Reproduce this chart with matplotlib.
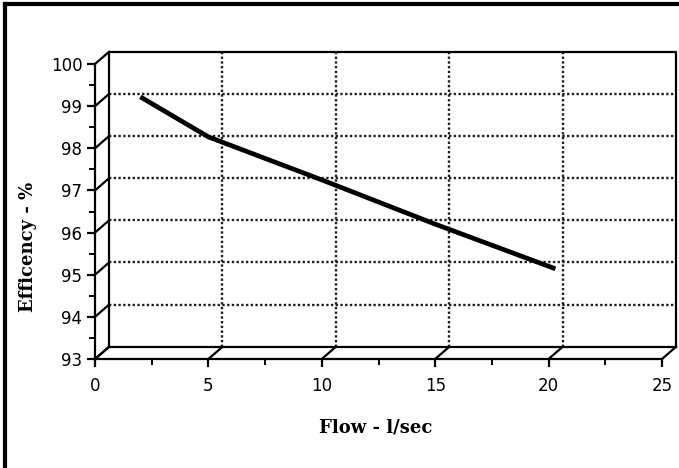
import matplotlib
matplotlib.use("Agg")
import matplotlib.pyplot as plt
from matplotlib.lines import Line2D

# data
flow = [2, 5, 10, 15, 20.3]
efficiency = [99.22, 98.27, 97.25, 96.2, 95.14]

x_ticks = [0, 5, 10, 15, 20, 25]
y_ticks = [93, 94, 95, 96, 97, 98, 99, 100]

# depth offset of the back wall (data units)
dx, dy = 0.62, 0.29

fig = plt.figure(figsize=(6.79, 4.68), dpi=100)
fig.patch.set_facecolor("white")
ax = fig.add_axes([95 / 679, 109 / 468, 567 / 679, 295 / 468])
ax.set_facecolor("none")
ax.set_xlim(0, 25)
ax.set_ylim(93, 100)

for s in ["top", "right"]:
    ax.spines[s].set_visible(False)
for s in ["left", "bottom"]:
    ax.spines[s].set_linewidth(1.6)

ax.set_xticks(x_ticks)
ax.set_yticks(y_ticks)
ax.set_xticks([2.5, 7.5, 12.5, 17.5, 22.5], minor=True)
ax.set_yticks([93.5, 94.5, 95.5, 96.5, 97.5, 98.5, 99.5], minor=True)
ax.tick_params(which="major", direction="out", length=6, width=1.6,
               labelsize=12, pad=3)
ax.tick_params(axis="x", which="major", pad=7)
ax.tick_params(which="minor", direction="out", length=4, width=1.4)

# back wall grid (dotted)
grid_kw = dict(color="#1e1e1e", lw=1.7, ls=(0, (1, 1)), clip_on=False, zorder=1)
for y in y_ticks[1:-1]:
    ax.plot([dx, 25 + dx], [y + dy, y + dy], **grid_kw)
for x in x_ticks[1:-1]:
    ax.plot([x + dx, x + dx], [93 + dy, 100 + dy], **grid_kw)

# back wall frame
frame_kw = dict(color="black", lw=1.6, clip_on=False, zorder=2)
ax.plot([dx, dx, 25 + dx, 25 + dx], [93 + dy, 100 + dy, 100 + dy, 93 + dy], **frame_kw)
ax.plot([dx, 25 + dx], [93 + dy, 93 + dy], **frame_kw)

# depth diagonals at major ticks
for y in y_ticks:
    ax.plot([0, dx], [y, y + dy], **frame_kw)
for x in x_ticks:
    ax.plot([x, x + dx], [93, 93 + dy], **frame_kw)

# efficiency curve
ax.plot(flow, efficiency, color="black", lw=3.4, solid_capstyle="butt",
        solid_joinstyle="round", clip_on=False, zorder=3)

fig.text(376 / 679, 1 - 428 / 468, "Flow - l/sec", ha="center", va="center",
         family="DejaVu Serif", fontsize=13, fontweight="bold")
fig.text(28 / 679, 1 - 247 / 468, "Efficency - %", ha="center", va="center",
         rotation=90, family="DejaVu Serif", fontsize=13, fontweight="bold")

# scan border (top and left)
fig.add_artist(Line2D([5 / 679, 5 / 679], [0, 1 - 4 / 468], transform=fig.transFigure,
                      color="black", lw=3))
fig.add_artist(Line2D([5 / 679, 1], [1 - 4 / 468, 1 - 4 / 468], transform=fig.transFigure,
                      color="black", lw=3))

fig.savefig("out.png", dpi=100)
